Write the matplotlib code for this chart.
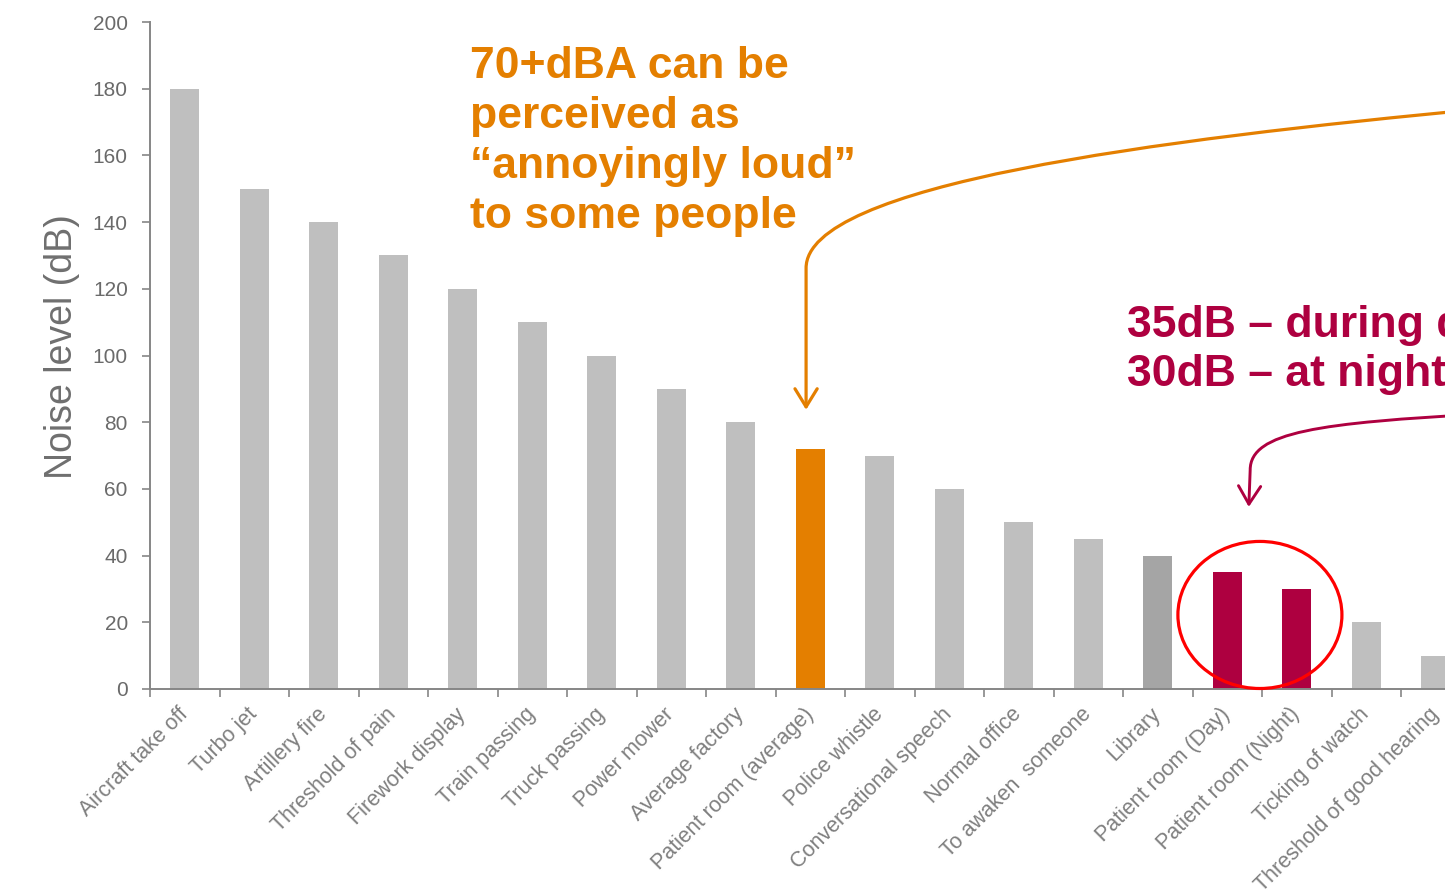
import numpy as np
import matplotlib
matplotlib.use('Agg')
import matplotlib.pyplot as plt
from matplotlib.path import Path
from matplotlib.patches import FancyArrowPatch, Ellipse
from matplotlib.ticker import NullFormatter

categories = ['Aircraft take off', 'Turbo jet', 'Artillery fire', 'Threshold of pain',
              'Firework display', 'Train passing', 'Truck passing', 'Power mower',
              'Average factory', 'Patient room (average)', 'Police whistle',
              'Conversational speech', 'Normal office', 'To awaken  someone', 'Library',
              'Patient room (Day)', 'Patient room (Night)', 'Ticking of watch',
              'Threshold of good hearing']
noise_db = [180, 150, 140, 130, 120, 110, 100, 90, 80, 72, 70, 60, 50, 45, 40, 35, 30, 20, 10]

yticks = list(range(0, 201, 20))

orange_note = '70+dBA can be\nperceived as\n\u201cannoyingly loud\u201d\nto some people'
crimson_note = '35dB \u2013 during day\n30dB \u2013 at night'

GREY = '#BFBFBF'
ORANGE = '#E47F00'
CRIMSON = '#AE0040'

plt.rcParams['font.family'] = ['Liberation Sans', 'DejaVu Sans']

fig = plt.figure(figsize=(14.45, 8.93), dpi=100)
ax = fig.add_axes([150 / 1445, 204 / 893, 69.5 * len(categories) / 1445, 667 / 893])

colors = []
for c in categories:
    if c == 'Patient room (average)':
        colors.append(ORANGE)
    elif c.startswith('Patient room'):
        colors.append(CRIMSON)
    elif c == 'Library':
        colors.append('#A5A5A5')
    else:
        colors.append(GREY)

x = np.arange(len(categories))
ax.bar(x, noise_db, width=0.42, color=colors, zorder=2)

ax.set_xlim(-0.5, len(categories) - 0.5)
ax.set_ylim(0, 200)
ax.set_yticks(yticks)
for s in ['top', 'right']:
    ax.spines[s].set_visible(False)
for s in ['left', 'bottom']:
    ax.spines[s].set_color('#868686')
    ax.spines[s].set_linewidth(1.4)

# ticks sit between the bars, labels under the bars
ax.set_xticks(np.arange(len(categories) + 1) - 0.5)
ax.xaxis.set_major_formatter(NullFormatter())
ax.set_xticks(x, categories, minor=True)
ax.tick_params(axis='x', which='major', length=6, width=1.2, color='#868686')
ax.tick_params(axis='x', which='minor', length=0, pad=16, labelsize=15.5, labelcolor='#7F7F7F')
for lbl in ax.get_xticklabels(minor=True):
    lbl.set_rotation(45)
    lbl.set_ha('right')
    lbl.set_va('center')
    lbl.set_rotation_mode('anchor')
ax.tick_params(axis='y', length=6, width=1.2, color='#868686', labelsize=15,
               labelcolor='#6A6A6A', pad=10)

ax.set_ylabel('Noise level (dB)', fontsize=27, color='#6F6F6F')
ax.yaxis.set_label_coords(-0.053, 0.514)

# red ring round the two patient room bars
ring = Ellipse((15.47, 22.2), 2.36, 44.1, fill=False, edgecolor='#FF0000', lw=2.3,
               zorder=3, clip_on=False)
ax.add_patch(ring)

# curved arrows coming in from the right
orange_path = Path([(18.7, 174.0), (13.89, 164.6), (8.94, 151.1), (8.94, 126.2), (8.94, 83.7)],
                   [Path.MOVETO, Path.CURVE4, Path.CURVE4, Path.CURVE4, Path.LINETO])
ax.add_patch(FancyArrowPatch(path=orange_path, arrowstyle='->,head_length=0.65,head_width=0.4',
                             mutation_scale=20, lw=2.3, color=ORANGE, clip_on=False, zorder=4))

crimson_path = Path([(18.7, 82.5), (16.33, 79.8), (15.33, 77.1), (15.33, 65.7), (15.31, 54.6)],
                    [Path.MOVETO, Path.CURVE4, Path.CURVE4, Path.CURVE4, Path.LINETO])
ax.add_patch(FancyArrowPatch(path=crimson_path, arrowstyle='->,head_length=0.65,head_width=0.4',
                             mutation_scale=20, lw=2.1, color=CRIMSON, clip_on=False, zorder=4))

fig.text(470 / 1445, 1 - 46 / 893, orange_note, ha='left', va='top', fontsize=32,
         fontweight='bold', color=ORANGE, linespacing=1.28)
fig.text(1127 / 1445, 1 - 305 / 893, crimson_note, ha='left', va='top', fontsize=32,
         fontweight='bold', color=CRIMSON, linespacing=1.25)

fig.savefig('out.png', dpi=100)
